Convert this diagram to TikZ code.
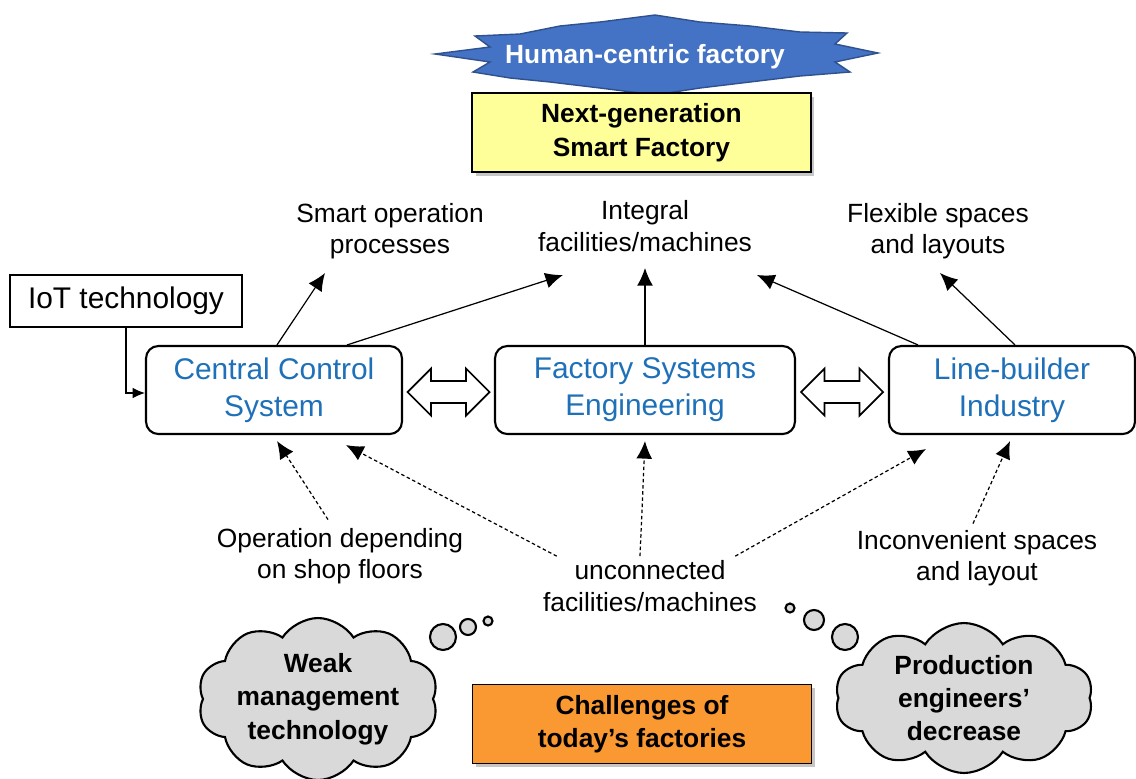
\documentclass[tikz,border=0pt]{standalone}
\usepackage{fontspec}
\setmainfont{Liberation Sans}
\usetikzlibrary{calc,arrows.meta,shapes.symbols,shadows}
\definecolor{sysblue}{RGB}{30,112,184}
\definecolor{starblue}{RGB}{68,114,196}
\definecolor{starline}{RGB}{47,82,143}
\definecolor{goalyellow}{RGB}{255,255,153}
\definecolor{issueorange}{RGB}{250,152,50}
\definecolor{puffgray}{RGB}{217,217,217}
\tikzset{
  >={Latex[length=10pt,width=9pt]},
  sysbox/.style={draw,line width=1.2pt,rounded corners=7pt,minimum height=1.76cm,
    text=sysblue,align=center,font=\fontsize{17}{21}\selectfont},
  lab/.style={align=center,inner sep=0pt,font=\fontsize{15}{18}\selectfont},
  bold/.style={align=center,font=\bfseries\fontsize{15}{19}\selectfont},
  tagbox/.style={bold,draw,line width=0.8pt,minimum width=6.78cm,minimum height=1.58cm,
    drop shadow={shadow xshift=2pt,shadow yshift=-2pt,opacity=.45}},
  puff/.style={bold,cloud,cloud puffs=10,cloud puff arc=115,cloud ignores aspect,
    draw,line width=1.2pt,fill=puffgray,inner sep=0pt},
  twoway/.pic={
    \draw[line width=1pt,fill=white,line join=miter]
      (-41,0) -- (-17.5,-23.5) -- (-17.5,-11) -- (17.5,-11) -- (17.5,-23.5)
      -- (41,0) -- (17.5,23.5) -- (17.5,11) -- (-17.5,11) -- (-17.5,23.5) -- cycle;
  },
  flow/.style={->,line width=0.7pt},
  cause/.style={->,line width=0.7pt,dash pattern=on 2pt off 1.5pt}
}
\begin{document}
\begin{tikzpicture}[x=0.02cm,y=-0.02cm]
    \useasboundingbox (0,0) rectangle (1136,778);
    % goal on top
    \draw[fill=starblue,draw=starline,line width=0.8pt]
      (435,54) -- (490,47) -- (475,36) -- (520,34) -- (560,26) -- (600,22)
      -- (655,15) -- (700,22) -- (750,26) -- (800,32) -- (847,33) -- (835,44)
      -- (878,53) -- (835,62) -- (850,72) -- (800,76) -- (750,82) -- (700,88)
      -- (655,95) -- (600,88) -- (550,82) -- (510,78) -- (473,72) -- (490,62)
      -- cycle;
    \node[bold,text=white] (hcf) at (645,57) {Human-centric factory};
    \node[tagbox,fill=goalyellow] (nsf) at (641.5,132.5) {Next-generation\\Smart Factory};
    % results
    \node[lab] (smart) at (390,231) {Smart operation\\processes};
    \node[lab] (integ) at (645,226) {Integral\\facilities/machines};
    \node[lab] (flex) at (938,231) {Flexible spaces\\and layouts};
    % three players
    \node[draw,line width=0.6pt,minimum width=4.64cm,minimum height=1.04cm,
      font=\fontsize{17}{20}\selectfont] (iot) at (126,301) {IoT technology};
    \node[sysbox,minimum width=5.12cm] (ccs) at (274,390) {Central Control\\System};
    \node[sysbox,minimum width=6cm] (fse) at (645,390) {Factory Systems\\Engineering};
    \node[sysbox,minimum width=4.92cm] (lbi) at (1012,390) {Line-builder\\Industry};
    \coordinate (w_1) at ($(ccs.east)!.5!(fse.west)+(0,2)$);
    \coordinate (w_2) at ($(fse.east)!.5!(lbi.west)+(0,2)$);
    \pic at (w_1) {twoway};
    \pic at (w_2) {twoway};
    % today's problems
    \node[lab] (oper) at (340,556) {Operation depending\\on shop floors};
    \node[lab] (unc) at (650,586) {unconnected\\facilities/machines};
    \node[lab] (inc) at (977,558) {Inconvenient spaces\\and layout};
    \node[tagbox,fill=issueorange] (chal) at (642,724) {Challenges of\\today’s factories};
    \node[puff,minimum width=4.5cm,minimum height=2.84cm] (weak) at (318,699)
      {Weak\\management\\technology};
    \node[puff,minimum width=5.16cm,minimum height=3cm] (engi) at (964,698)
      {Production\\engineers’\\decrease};
    \foreach \cx/\cy/\r in {443/637/13,468/627/8,488/621/4.5,790/608/4.5,814/620/10,845/637/13}
      \draw[line width=1.2pt,fill=puffgray] (\cx,\cy) circle[radius=\r];
    % connectors
    \draw[->,line width=0.6pt,>={Latex[length=7pt,width=6pt]}] (iot.south) |- ($(ccs.west)+(0,3)$);
    \draw[flow] ($(ccs.north)+(3,0)$) -- ($(smart)+(-65,42)$);
    \draw[flow] ($(ccs.north)+(73,0)$) -- ($(integ)+(-82,49)$);
    \draw[flow] (fse.north) -- ($(integ)+(0,42)$);
    \draw[flow] ($(lbi.north)+(-94,0)$) -- ($(integ)+(112,49)$);
    \draw[flow] ($(lbi.north)+(3,0)$) -- ($(flex)+(2,42)$);
    \draw[cause] ($(oper.north)+(-12,-8)$) -- ($(ccs.south)+(3,6)$);
    \draw[cause] ($(unc.north west)+(14,-4)$) -- ($(ccs.south)+(72,10)$);
    \draw[cause] ($(unc.north)+(-10,-4)$) -- ($(fse.south)+(0,6)$);
    \draw[cause] ($(unc.north east)+(-22,-4)$) -- ($(lbi.south west)+(38,14)$);
    \draw[cause] ($(inc.north)+(-4,-6)$) -- ($(lbi.south)+(-2,6)$);
\end{tikzpicture}
\end{document}
